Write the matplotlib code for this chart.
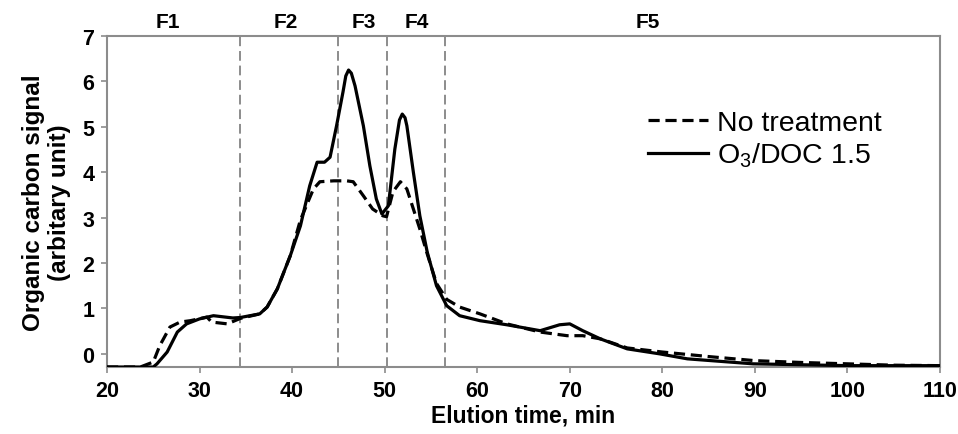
import matplotlib
matplotlib.use("Agg")
import matplotlib.pyplot as plt
import matplotlib.transforms as mtransforms

plt.rcParams['font.family'] = ['Liberation Sans', 'DejaVu Sans']
plt.rcParams['mathtext.default'] = 'regular'

# elution time (min) / organic carbon signal
x_none = [20, 23.6, 25.0, 25.7, 26.8, 27.9, 29.0, 30.8, 31.3, 33.0, 34.4, 36.5, 37.3,
          38.4, 39.8, 40.9, 42.3, 43.0, 44.5, 45.9, 46.6, 47.7, 48.7, 49.8, 50.2,
          50.9, 51.7, 52.4, 53.1, 53.8, 54.6, 55.6, 56.7, 58.1, 60.3, 63.2, 66.8,
          69.7, 71.4, 73.3, 76.2, 80, 85, 90, 95, 100, 105, 110]
y_none = [-0.29, -0.29, -0.18, 0.18, 0.59, 0.70, 0.73, 0.81, 0.70, 0.66, 0.78, 0.88, 1.03,
          1.43, 2.16, 2.95, 3.63, 3.79, 3.81, 3.81, 3.79, 3.48, 3.19, 3.04, 3.02,
          3.57, 3.79, 3.63, 3.19, 2.75, 2.20, 1.55, 1.20, 1.03, 0.88, 0.66, 0.48,
          0.40, 0.40, 0.33, 0.13, 0.04, -0.06, -0.15, -0.19, -0.22, -0.25, -0.26]

x_o3 = [20, 25.0, 25.4, 26.5, 27.6, 28.6, 30.0, 31.5, 33.6, 34.4, 36.5, 37.3, 38.4,
        39.8, 40.9, 41.9, 42.7, 43.5, 44.1, 44.8, 45.5, 45.8, 46.1, 46.4, 46.8,
        47.7, 48.4, 49.1, 49.7, 50.4, 51.1, 51.6, 51.9, 52.2, 52.4, 53.1, 53.8,
        54.6, 55.6, 56.7, 58.1, 60.3, 63.2, 66.8, 68.9, 70.0, 71.4, 73.3, 76.2,
        79.7, 82.7, 89.8, 100, 110]
y_o3 = [-0.29, -0.29, -0.22, 0.04, 0.48, 0.66, 0.77, 0.84, 0.79, 0.80, 0.88, 1.03, 1.43,
        2.16, 2.82, 3.70, 4.22, 4.22, 4.33, 5.02, 5.77, 6.12, 6.25, 6.18, 5.90,
        5.02, 4.14, 3.41, 3.08, 3.26, 4.51, 5.15, 5.28, 5.20, 5.02, 4.00, 3.04,
        2.24, 1.50, 1.06, 0.84, 0.73, 0.64, 0.51, 0.64, 0.66, 0.51, 0.33, 0.11,
        0.00, -0.11, -0.22, -0.26, -0.26]

# fraction borders and labels
borders = [34.4, 45.0, 50.2, 56.5]
frac_names = ['F1', 'F2', 'F3', 'F4', 'F5']
frac_pos = [26.6, 39.3, 47.7, 53.5, 78.4]

fig = plt.figure(figsize=(9.58, 4.35), dpi=100)
ax = fig.add_axes([0.1117, 0.154, 0.8695, 0.761])

for b in borders:
    ax.axvline(b, color='#8c8c8c', lw=1.4, linestyle=(0, (5, 2.5)), zorder=1)

ax.plot(x_none, y_none, color='black', lw=2.3, linestyle=(0, (3.5, 1.8)), label='No treatment', zorder=3)
ax.plot(x_o3, y_o3, color='black', lw=2.3, label='O$_3$/DOC 1.5', zorder=3)

ax.set_xlim(20, 110)
ax.set_ylim(-0.29, 7)
ax.set_xticks(range(20, 111, 10))
ax.set_yticks(range(0, 8))

for s in ax.spines.values():
    s.set_color('#8c8c8c')
    s.set_linewidth(1.5)
ax.tick_params(direction='out', length=4, width=1.2, color='#8c8c8c', labelsize=15.5, pad=5)
for lab in ax.get_xticklabels() + ax.get_yticklabels():
    lab.set_fontweight('bold')

ax.set_xlabel('Elution time, min', fontsize=16.5, fontweight='bold', labelpad=2)
ax.set_ylabel('Organic carbon signal\n(arbitary unit)', fontsize=17.5, fontweight='bold', labelpad=8)

trans = mtransforms.blended_transform_factory(ax.transData, ax.transAxes)
for name, p in zip(frac_names, frac_pos):
    ax.text(p, 1.045, name, transform=trans, ha='center', va='center',
            fontsize=15, fontweight='bold')

ax.legend(loc='upper left', bbox_to_anchor=(0.636, 0.81), frameon=False, fontsize=20.5,
          handlelength=2.1, handletextpad=0.3, labelspacing=0.15, borderaxespad=0)

fig.savefig('out.png', dpi=100)
